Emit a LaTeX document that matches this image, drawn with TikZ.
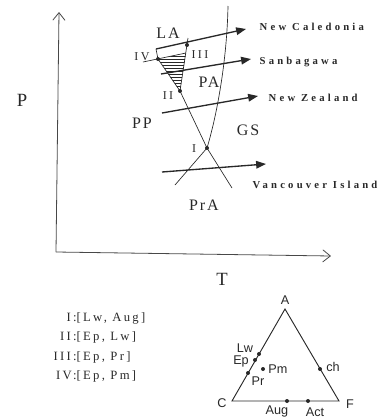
\documentclass[tikz,border=0pt]{standalone}
\usepackage{fontspec}
\setmainfont{Liberation Serif}
\newfontfamily\geofont[LetterSpace=30]{Liberation Serif}
\newfontfamily\lblfont[LetterSpace=12]{Liberation Serif}
\newfontfamily\romfont[LetterSpace=20]{Liberation Serif}
\newfontfamily\legfont[LetterSpace=18]{Liberation Serif}
\newfontfamily\trifont{Liberation Sans}
\usepackage{xcolor}
\usetikzlibrary{arrows.meta}
\definecolor{ink}{RGB}{40,40,40}

\begin{document}
\begin{tikzpicture}[x=0.75pt,y=-0.75pt,
  ax/.style={line width=0.6pt,draw=ink!85,-{Straight Barb[length=2mm,width=3.2mm]}},
  geo/.style={line width=1pt,draw=ink,-{Triangle[length=2.6mm,width=2mm]}},
  rxn/.style={line width=0.5pt,draw=ink},
  triln/.style={line width=0.7pt,draw=ink},
  mdot/.style={circle,fill=ink,inner sep=0pt,minimum size=3pt},
  big/.style={text=ink,font=\fontsize{14}{14}\selectfont},
  lbl/.style={text=ink,font=\lblfont\fontsize{12}{12}\selectfont},
  rom/.style={text=ink,font=\romfont\fontsize{9}{9}\selectfont},
  site/.style={text=ink,anchor=west,font=\geofont\bfseries\fontsize{8}{8}\selectfont},
  leg/.style={text=ink,anchor=west,font=\legfont\fontsize{9.5}{9.5}\selectfont},
  tri/.style={text=ink,font=\trifont\fontsize{9.5}{9.5}\selectfont}
]
\useasboundingbox (0,0) rectangle (390,419);

\coordinate (o) at (56,252);
\coordinate (pax) at (59,12);
\coordinate (tax) at (331,256);
\draw[ax] (o) -- (pax);
\draw[ax] (o) -- (tax);
\node[big] (plbl) at (22,100) {P};
\node[big] (tlbl) at (222,279) {T};

\coordinate (lt) at (156,49);
\coordinate (iv) at (158,59);
\coordinate (ii) at (180,91);
\coordinate (i) at (207,148);
\coordinate (lb) at (232,188);
\coordinate (rt) at (228,6);
\coordinate (rb) at (175,185);
\coordinate (st) at (188,38);
\coordinate (iii) at (187,45);
\coordinate (ivl) at (143,62);
\coordinate (ivr) at (186,53);

\begin{scope}
\clip (iv) -- (ivr) -- (ii) -- cycle;
\foreach \y in {56,59,...,92}
  \draw[line width=0.4pt,ink] (150,\y) -- (195,\y);
\end{scope}

\draw[rxn] (lt) -- (iv) -- (ii) -- (i) -- (lb);
\draw[rxn] (rt) .. controls (227,60) and (217,115) .. (i) -- (rb);
\draw[rxn] (st) -- (ii);
\draw[rxn] (ivl) -- (ivr);

\coordinate (nc) at (246,29);
\coordinate (sb0) at (161,74);
\coordinate (sb) at (251,59);
\coordinate (nz0) at (162,113);
\coordinate (nz) at (258,96);
\coordinate (vi0) at (162,172);
\coordinate (vi) at (266,164);
\draw[geo] (lt) -- (nc);
\draw[geo] (sb0) -- (sb);
\draw[geo] (nz0) -- (nz);
\draw[geo] (vi0) -- (vi);

\node[mdot] (ivdot) at (iv) {};
\node[mdot] (iiidot) at (iii) {};
\node[mdot] (iidot) at (ii) {};
\node[mdot] (idot) at (i) {};

\node[site] (ncl) at (255,27) {New Caledonia};
\node[site] (sbl) at (255,62) {Sanbagawa};
\node[site] (nzl) at (264,98) {New Zealand};
\node[site] (vil) at (248,185) {Vancouver Island};

\node[lbl] (la) at (168,33) {LA};
\node[lbl] (pa) at (209,82) {PA};
\node[lbl] (pp) at (142,123) {PP};
\node[lbl] (gs) at (248,130) {GS};
\node[lbl] (pra) at (204,205) {PrA};
\node[rom] (ivlbl) at (142,57) {IV};
\node[rom] (iiilbl) at (200,55) {III};
\node[rom] (iilbl) at (168,96) {II};
\node[rom] (ilbl) at (194,149) {I};

\node[leg] (leg1) at (72,318) {\llap{I:}[Lw, Aug]};
\node[leg] (leg2) at (72,337) {\llap{II:}[Ep, Lw]};
\node[leg] (leg3) at (72,357) {\llap{III:}[Ep, Pr]};
\node[leg] (leg4) at (72,376) {\llap{IV:}[Ep, Pm]};

\coordinate (ta) at (285,309);
\coordinate (tc) at (232,401);
\coordinate (tf) at (339,401);
\draw[triln] (tc) -- (ta) -- (tf) -- cycle;
\node[mdot] (lw) at (259,354) {};
\node[mdot] (ep) at (255,360) {};
\node[mdot] (pr) at (248,373) {};
\node[mdot] (pm) at (263,369) {};
\node[mdot] (ch) at (320,369) {};
\node[mdot] (aug) at (287,401) {};
\node[mdot] (act) at (308,401) {};
\node[tri] (albl) at (285,300) {A};
\node[tri] (clbl) at (222,403) {C};
\node[tri] (flbl) at (350,404) {F};
\node[tri] (lwlbl) at (245,348) {Lw};
\node[tri] (eplbl) at (241,361) {Ep};
\node[tri] (prlbl) at (258,381) {Pr};
\node[tri] (pmlbl) at (278,369) {Pm};
\node[tri] (chlbl) at (333,367) {ch};
\node[tri] (auglbl) at (277,411) {Aug};
\node[tri] (actlbl) at (315,412) {Act};
\end{tikzpicture}
\end{document}
